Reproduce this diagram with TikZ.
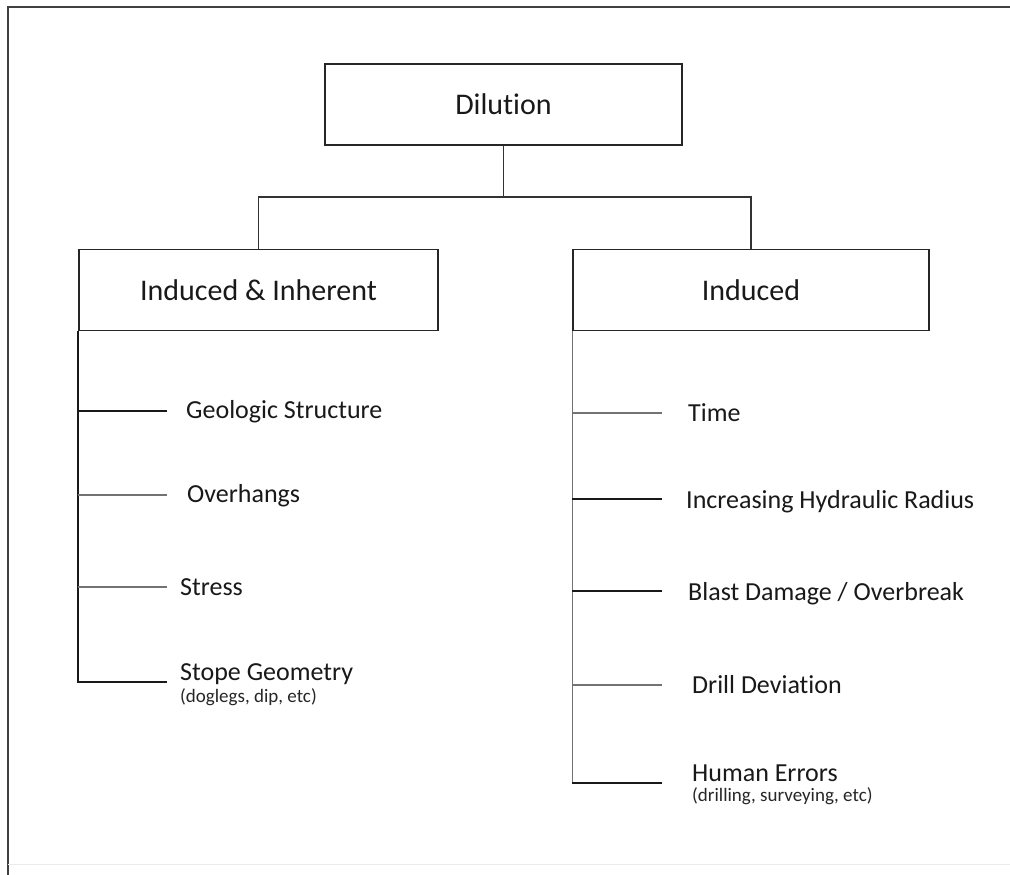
\documentclass[tikz,border=0pt]{standalone}
\usepackage{fontspec}
\setmainfont{Carlito}[Ligatures=NoCommon]
\begin{document}
\begin{tikzpicture}[x=1pt,y=-1pt,
  box/.style={draw=black!85, line width=1.7pt, minimum height=81pt, inner sep=0pt,
    font=\fontsize{30}{36}\selectfont, text=black!90},
  item/.style={anchor=base west, inner sep=0pt, font=\fontsize{26}{30}\selectfont, text=black!90},
  note/.style={anchor=north west, inner sep=0pt, font=\fontsize{19}{22}\selectfont, text=black!85},
  link/.style={draw=black!80, line width=1.5pt},
  twig/.style={draw=black!90, line width=1.4pt},
  twiglight/.style={draw=black!55, line width=1.1pt}]
\useasboundingbox (0,0) rectangle (1010,875);
\fill[white] (0,0) rectangle (1010,875);
% page frame
\draw[line width=2pt, black!75] (8,875) -- (8,7) -- (1010,7);
\draw[line width=0.8pt, black!8] (8,864) -- (1010,864);

% boxes
\node[box, minimum width=357pt] (dil) at (503.5,104.5) {Dilution};
\node[box, minimum width=359pt] (inh) at (258.5,290) {Induced \& Inherent};
\node[box, minimum width=356pt] (ind) at (751,290) {Induced};

% top-level connectors
\coordinate (jn) at (503.5,197);
\draw[link] (dil.south) -- (jn) -| (inh.north);
\draw[link] (jn) -| (ind.north);

% left branch ends and labels
\coordinate (l1) at (167,411);
\coordinate (l2) at (167,495);
\coordinate (l3) at (167,587);
\coordinate (l4) at (167,682);
\node[item] (geo) at (186,418) {Geologic Structure};
\node[item] (ovh) at (187,502) {Overhangs};
\node[item] (str) at (180,595) {Stress};
\node[item] (stp) at (180,680) {Stope Geometry};
\node[note] (stpn) at (180,688) {(doglegs, dip, etc)};

\draw[twig] (inh.south west) -- (inh.south west |- l4) -- (l4);
\draw[twig] (inh.south west |- l1) -- (l1);
\draw[twiglight] (inh.south west |- l2) -- (l2);
\draw[twiglight] (inh.south west |- l3) -- (l3);

% right branch ends and labels
\coordinate (r1) at (662,413);
\coordinate (r2) at (662,499);
\coordinate (r3) at (662,591);
\coordinate (r4) at (662,685);
\coordinate (r5) at (662,783);
\node[item] (tim) at (688,421) {Time};
\node[item] (hyd) at (686,508) {Increasing Hydraulic Radius};
\node[item] (bla) at (688,600) {Blast Damage / Overbreak};
\node[item] (dri) at (692,693) {Drill Deviation};
\node[item] (hum) at (692,781) {Human Errors};
\node[note] (humn) at (692,787) {(drilling, surveying, etc)};

\draw[twiglight] (ind.south west) -- (ind.south west |- r5);
\draw[twig] (ind.south west |- r5) -- (r5);
\draw[twiglight] (ind.south west |- r1) -- (r1);
\draw[twig] (ind.south west |- r2) -- (r2);
\draw[twig] (ind.south west |- r3) -- (r3);
\draw[twiglight] (ind.south west |- r4) -- (r4);
\end{tikzpicture}
\end{document}
